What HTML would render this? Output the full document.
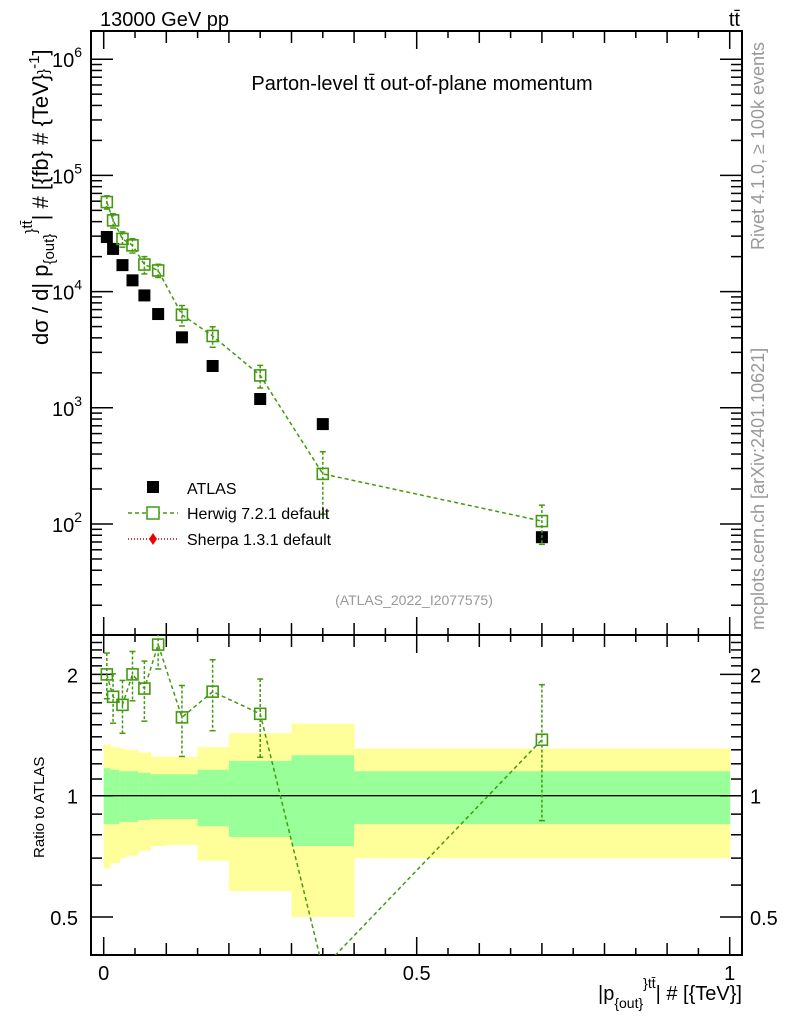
<!DOCTYPE html>
<html><head><meta charset="utf-8"><style>
html,body{margin:0;padding:0;background:#fff;overflow:hidden;width:786px;height:1024px;}
svg{display:block;font-family:"Liberation Sans",sans-serif;}
</style></head><body>
<svg id="chart" width="786" height="1024" viewBox="0 0 786 1024">
<g id="bands"></g>
<g id="axes"></g>
<g id="series"></g>
<text x="100" y="26" font-size="20">13000 GeV pp</text>
<text x="740" y="26" font-size="20" text-anchor="end">tt̄</text>
<text x="422" y="90" font-size="20" text-anchor="middle">Parton-level tt̄ out-of-plane momentum</text>
<text x="414" y="605" font-size="14" fill="#999" text-anchor="middle">(ATLAS_2022_I2077575)</text>
<text transform="translate(764,250) rotate(-90)" font-size="18" fill="#999">Rivet 4.1.0, ≥ 100k events</text>
<text transform="translate(764,630) rotate(-90)" font-size="18" fill="#999">mcplots.cern.ch [arXiv:2401.10621]</text>
<text transform="translate(48,345) rotate(-90)" font-size="22">dσ / d| p<tspan font-size="15" dy="6">{out}</tspan><tspan font-size="15" dy="-18">}</tspan><tspan font-size="15" dy="-4">tt̄</tspan><tspan dy="16">| # [{fb} # {TeV}</tspan><tspan font-size="15">}</tspan><tspan font-size="15" dy="-9">-1</tspan><tspan dy="9">]</tspan></text>
<text transform="translate(44,858) rotate(-90)" font-size="15">Ratio to ATLAS</text>
<text x="742" y="1000" font-size="20" text-anchor="end">|p<tspan font-size="14" dy="8">{out}</tspan><tspan font-size="14" dy="-20">}</tspan><tspan font-size="14">tt̄</tspan><tspan dy="12">| # [{TeV}]</tspan></text>
<g>
<rect x="147" y="481" width="12" height="12" fill="#000"/>
<text x="187" y="494" font-size="16">ATLAS</text>
<line x1="128" y1="513" x2="178" y2="513" stroke="#449911" stroke-width="1.5" stroke-dasharray="4,3"/>
<rect x="147" y="507" width="12" height="12" fill="#fff" stroke="#449911" stroke-width="1.5"/>
<text x="187" y="519" font-size="16">Herwig 7.2.1 default</text>
<line x1="128" y1="539" x2="178" y2="539" stroke="#cc0000" stroke-width="1.5" stroke-dasharray="1,2"/>
<path d="M153,533 L157,539 L153,545 L149,539 Z" fill="#e00"/>
<text x="187" y="545" font-size="16">Sherpa 1.3.1 default</text>
</g>
</svg>
<script>
const xs = [0.005,0.015,0.03,0.046,0.065,0.087,0.125,0.174,0.25,0.35,0.7];
const atlas = [29500,23300,16900,12500,9270,6410,4040,2290,1190,724,77];
const herwig = [59000,41000,28400,25000,17100,15200,6320,4150,1900,270,106];
const herwigErr = [0.13,0.14,0.15,0.14,0.17,0.13,0.2,0.2,0.22,0.55,0.37];
const binEdges = [0,0.01,0.025,0.035,0.055,0.075,0.1,0.15,0.2,0.3,0.4,1.0];
const yellowHi = [1.34,1.32,1.31,1.30,1.28,1.25,1.25,1.32,1.43,1.51,1.31];
const greenHi = [1.17,1.16,1.15,1.15,1.14,1.13,1.13,1.16,1.22,1.26,1.15];
const greenLo = [0.85,0.85,0.86,0.86,0.87,0.875,0.875,0.84,0.79,0.75,0.85];
const yellowLo = [0.66,0.68,0.70,0.71,0.73,0.75,0.755,0.69,0.58,0.50,0.70];
const mainTicks = ["10","10","10","10","10"];
const mainExp = [2,3,4,5,6];
const ratioTicks = [0.5,1,2];

const NS="http://www.w3.org/2000/svg";
const L=91,R=742,T=31,MB=635,RB=955;
const X=v=>103.7+v*626;
const Y=v=>524-(Math.log10(v)-2)*116.2;
const RY=v=>795.7-Math.log2(v)*121.3;
function mk(tag,attrs,parent){const e=document.createElementNS(NS,tag);for(const k in attrs)e.setAttribute(k,attrs[k]);parent.appendChild(e);return e;}
const bands=document.getElementById('bands'),axes=document.getElementById('axes'),ser=document.getElementById('series');

for(let i=0;i<yellowHi.length;i++){
 const x0=X(binEdges[i]),x1=X(binEdges[i+1]);
 const y=mk('rect',{x:x0,y:RY(yellowHi[i]),width:x1-x0+0.5,height:RY(yellowLo[i])-RY(yellowHi[i]),fill:'#ffff99'},bands);
 
 
 const g=mk('rect',{x:x0,y:RY(greenHi[i]),width:x1-x0+0.5,height:RY(greenLo[i])-RY(greenHi[i]),fill:'#99ff99'},bands);
 
 
}
mk('line',{x1:L,x2:R,y1:RY(1),y2:RY(1),stroke:'#000','stroke-width':1.3},bands);

for(const [t,b] of [[T,MB],[MB,RB]]){
 const f=mk('rect',{x:L,y:t,width:R-L,height:b-t,fill:'none',stroke:'#000','stroke-width':2},axes);
 
 
}
for(let k=0;k<=20;k++){
 const v=k*0.05,x=X(v);const len=(k%10==0)?18:(k%2==0?12:7);
 for(const [yb,yt] of [[MB,T],[RB,MB]]){
  mk('line',{x1:x,x2:x,y1:yb,y2:yb-len,stroke:'#000','stroke-width':1.5},axes);
  mk('line',{x1:x,x2:x,y1:yt,y2:yt+len,stroke:'#000','stroke-width':1.5},axes);
 }
}
[[0,"0"],[0.5,"0.5"],[1,"1"]].forEach(([v,s])=>{const t=mk('text',{x:X(v),y:980,'font-size':20,'text-anchor':'middle'},axes);t.textContent=s;
 
 });
for(let d=1;d<=6;d++){for(let m=1;m<10;m++){const y=Y(m*Math.pow(10,d));if(y<T||y>MB)continue;const len=m==1?22:11;
 mk('line',{x1:L,x2:L+len,y1:y,y2:y,stroke:'#000','stroke-width':1.5},axes);
 mk('line',{x1:R,x2:R-len,y1:y,y2:y,stroke:'#000','stroke-width':1.5},axes);}}
mainExp.forEach((e,i)=>{const t=mk('text',{x:52,y:Y(Math.pow(10,e))+8,'font-size':20},axes);t.textContent=mainTicks[i];
 
 
 const s=mk('tspan',{'font-size':14,dy:-10},t);s.textContent=e;});
for(let v=0.4;v<=2.5;v+=0.1){const r=Math.round(v*10)/10;const y=RY(r);if(y<MB||y>RB)continue;const maj=(r==0.5||r==1||r==2);const len=maj?22:11;
 mk('line',{x1:L,x2:L+len,y1:y,y2:y,stroke:'#000','stroke-width':1.5},axes);
 mk('line',{x1:R,x2:R-len,y1:y,y2:y,stroke:'#000','stroke-width':1.5},axes);}
ratioTicks.forEach(v=>{const s=String(v);
 const a=mk('text',{x:78,y:RY(v)+8,'font-size':20,'text-anchor':'end'},axes);a.textContent=s;
 
 
 const b=mk('text',{x:750,y:RY(v)+8,'font-size':20},axes);b.textContent=s;
 
 });

const G='#449911';
mk('polyline',{points:xs.map((x,i)=>X(x)+','+Y(herwig[i])).join(' '),fill:'none',stroke:G,'stroke-width':1.5,'stroke-dasharray':'4,3'},ser);
xs.forEach((x,i)=>{
 const px=X(x),py=Y(herwig[i]);
 const a=mk('rect',{x:px-6,y:Y(atlas[i])-6,width:12,height:12,fill:'#000'},ser);
 
 
 const y1=Y(herwig[i]*(1+herwigErr[i])),y2=Y(herwig[i]*(1-herwigErr[i]));
 mk('line',{x1:px,x2:px,y1:y1,y2:y2,stroke:G,'stroke-width':1.5,'stroke-dasharray':'3,2'},ser);
 mk('line',{x1:px-3,x2:px+3,y1:y1,y2:y1,stroke:G,'stroke-width':1.5},ser);
 mk('line',{x1:px-3,x2:px+3,y1:y2,y2:y2,stroke:G,'stroke-width':1.5},ser);
 const h=mk('rect',{x:px-5.5,y:py-5.5,width:11,height:11,fill:'none',stroke:G,'stroke-width':1.6},ser);
 
 
});
const clip=mk('clipPath',{id:'rc'},ser);mk('rect',{x:L,y:MB,width:R-L,height:RB-MB},clip);
const rg=mk('g',{'clip-path':'url(#rc)'},ser);
const ratio=xs.map((x,i)=>herwig[i]/atlas[i]);
mk('polyline',{points:xs.map((x,i)=>X(x)+','+RY(ratio[i])).join(' '),fill:'none',stroke:G,'stroke-width':1.5,'stroke-dasharray':'4,3'},rg);
xs.forEach((x,i)=>{
 const px=X(x),r=ratio[i];
 if(RY(r)>RB||RY(r)<MB) return;
 const y1=RY(r*(1+herwigErr[i])),y2=RY(r*(1-herwigErr[i]));
 mk('line',{x1:px,x2:px,y1:y1,y2:y2,stroke:G,'stroke-width':1.5,'stroke-dasharray':'3,2'},rg);
 mk('line',{x1:px-3,x2:px+3,y1:y1,y2:y1,stroke:G,'stroke-width':1.5},rg);
 mk('line',{x1:px-3,x2:px+3,y1:y2,y2:y2,stroke:G,'stroke-width':1.5},rg);
 const h=mk('rect',{x:px-5.5,y:RY(r)-5.5,width:11,height:11,fill:'none',stroke:G,'stroke-width':1.6},rg);
 
 
});
</script>
</body></html>
